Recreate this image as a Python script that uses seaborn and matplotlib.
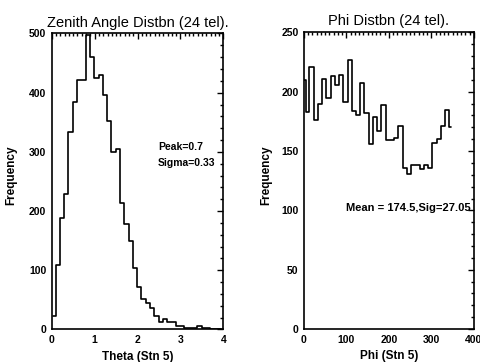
import numpy as np
import pandas as pd
import matplotlib
matplotlib.use("Agg")
import matplotlib.pyplot as plt
import seaborn as sns
from matplotlib.ticker import MultipleLocator

# Zenith angle histogram (bin centres every 0.1, IDL psym=10 style)
theta_centers = np.round(np.arange(40) * 0.1 + 0.04, 2)
theta_counts = [23, 109, 188, 229, 333, 385, 421, 421, 497, 460,
                424, 430, 396, 352, 300, 304, 213, 178, 150, 104,
                72, 51, 45, 37, 22, 13, 18, 12, 12, 6,
                5, 3, 3, 3, 5, 2, 2, 1, 1, 1]

# Phi histogram (bins of 10 deg, plus the spike at the axis)
phi_centers = [0.0] + list(np.arange(35) * 10 + 7.5)
phi_counts = [210, 183, 221, 176, 190, 211, 195, 213, 206, 214,
              191, 227, 184, 180, 207, 182, 156, 179, 167, 189,
              159, 159, 161, 171, 136, 131, 138, 138, 135, 138,
              136, 157, 160, 171, 185, 170]

theta_df = pd.DataFrame({"theta": theta_centers, "freq": theta_counts})
phi_df = pd.DataFrame({"phi": phi_centers, "freq": phi_counts})

sns.set_theme(style="white")
plt.rcParams["font.family"] = ["Liberation Sans", "DejaVu Sans"]
plt.rcParams.update({"text.color": "black", "axes.labelcolor": "black",
                     "xtick.color": "black", "ytick.color": "black"})

fig = plt.figure(figsize=(4.81, 3.62), dpi=100)
ax1 = fig.add_axes([0.1075, 0.090, 0.357, 0.8175])
ax2 = fig.add_axes([0.632, 0.091, 0.353, 0.8195])

for ax in (ax1, ax2):
    for sp in ax.spines.values():
        sp.set_visible(True)
        sp.set_color("black")
        sp.set_linewidth(1.2)
    ax.tick_params(which="both", direction="in", top=True, right=True,
                   color="black", width=1.0, pad=4)
    ax.tick_params(which="major", length=4)
    ax.tick_params(which="minor", length=2)

# left panel
sns.lineplot(data=theta_df, x="theta", y="freq", ax=ax1, color="black",
             drawstyle="steps-mid", estimator=None, sort=False, linewidth=1.2)
ax1.set_xlim(0, 4)
ax1.set_ylim(0, 500)
ax1.xaxis.set_major_locator(MultipleLocator(1))
ax1.xaxis.set_minor_locator(MultipleLocator(0.1))
ax1.yaxis.set_major_locator(MultipleLocator(100))
ax1.yaxis.set_minor_locator(MultipleLocator(20))
ax1.set_title("Zenith Angle Distbn (24 tel).", fontsize=10.5, pad=5)
ax1.set_xlabel("Theta (Stn 5)", fontsize=8.5, fontweight="bold")
ax1.set_ylabel("Frequency", fontsize=8.5, fontweight="bold")
ax1.xaxis.set_label_coords(0.5, -0.072)
ax1.yaxis.set_label_coords(-0.20, 0.52)
ax1.text(2.48, 308, "Peak=0.7", fontsize=7.5, fontweight="bold", va="center")
ax1.text(2.48, 281, "Sigma=0.33", fontsize=7.5, fontweight="bold", va="center")

# right panel
sns.lineplot(data=phi_df, x="phi", y="freq", ax=ax2, color="black",
             drawstyle="steps-mid", estimator=None, sort=False, linewidth=1.2)
ax2.set_xlim(0, 400)
ax2.set_ylim(0, 250)
ax2.xaxis.set_major_locator(MultipleLocator(100))
ax2.xaxis.set_minor_locator(MultipleLocator(10))
ax2.yaxis.set_major_locator(MultipleLocator(50))
ax2.yaxis.set_minor_locator(MultipleLocator(10))
ax2.set_title("Phi Distbn (24 tel).", fontsize=10.5, pad=5)
ax2.set_xlabel("Phi (Stn 5)", fontsize=8.5, fontweight="bold")
ax2.set_ylabel("Frequency", fontsize=8.5, fontweight="bold")
ax2.xaxis.set_label_coords(0.5, -0.072)
ax2.yaxis.set_label_coords(-0.185, 0.52)
ax2.text(100, 102, "Mean = 174.5,Sig=27.05", fontsize=8, fontweight="bold",
         va="center", clip_on=False)

for ax in (ax1, ax2):
    for lab in ax.get_xticklabels() + ax.get_yticklabels():
        lab.set_fontweight("bold")
        lab.set_fontsize(7.5)

fig.savefig("out.png", dpi=100)
